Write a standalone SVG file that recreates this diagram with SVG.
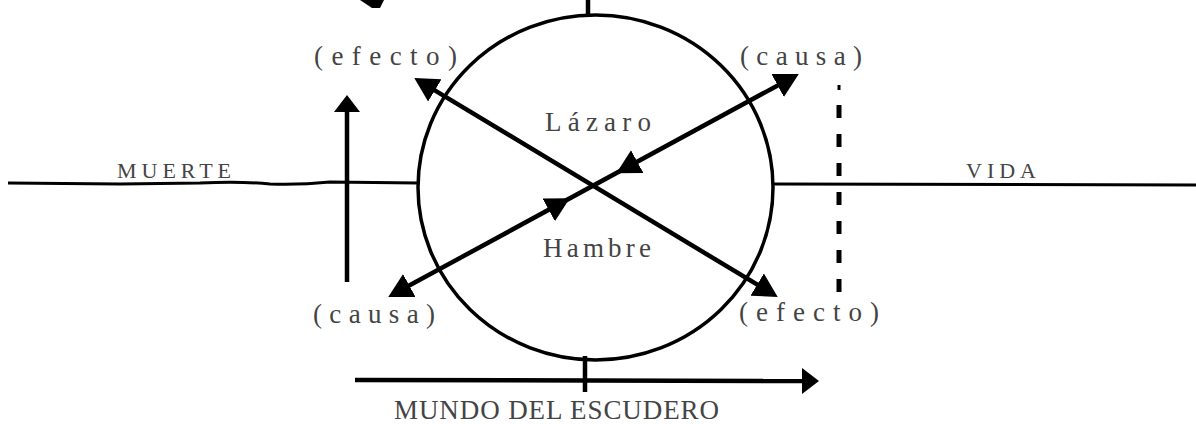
<svg xmlns="http://www.w3.org/2000/svg" width="1196" height="424" viewBox="0 0 1196 424">
<defs>
<style>
.ln{stroke:#000;fill:none;stroke-width:4.5;stroke-linecap:butt}
.thin{stroke:#000;fill:none;stroke-width:3}
.t{font-family:"Liberation Serif","DejaVu Serif",serif;fill:#444;font-size:27px}
.cap{font-size:22px}
.big{font-size:27px}
.mk{stroke:none;fill:none}
</style>
<marker id="ah" markerUnits="userSpaceOnUse" markerWidth="28" markerHeight="28" refX="18" refY="13" orient="auto-start-reverse" viewBox="0 0 28 28"><path d="M0,0 L24,13 L0,26 Z" fill="#000"/></marker>
<marker id="ah2" markerUnits="userSpaceOnUse" markerWidth="20" markerHeight="28" refX="12" refY="13" orient="auto-start-reverse" viewBox="0 0 20 28"><path d="M0,0 L17,13 L0,26 Z" fill="#000"/></marker>
</defs>
<rect width="1196" height="424" fill="#fff"/>

<g id="connectors">
  <path class="thin" d="M8,183 L120,184 L200,183 Q240,181 270,184 Q300,185 330,182 L418,183"/>
  <path class="thin" d="M773,184 L1196,185"/>
  <path class="ln" d="M588,0 L588,16"/>
  <polygon points="360,0 384,0 380,8 372,8" fill="#000"/>
  <path class="ln" d="M347,282 L347,100" marker-end="url(#ah2)"/>
  <path class="ln" d="M419.4,81.1 L772.6,293.9" marker-start="url(#ah)" marker-end="url(#ah)"/>
  <path class="ln" d="M393.5,294.1 L793.5,76.9" marker-start="url(#ah)" marker-end="url(#ah)"/>
  <path class="mk" d="M555.7,206 L564.5,201.2" marker-end="url(#ah)"/>
  <path class="mk" d="M630.3,165.5 L621.5,170.3" marker-end="url(#ah)"/>
  <path class="ln" d="M355,380 L814,381" marker-end="url(#ah2)"/>
  <path class="ln" d="M585,356 L585,392"/>
  <path d="M839,105 L839,293" stroke="#000" stroke-width="5" stroke-dasharray="13 16" fill="none"/>
  <rect x="837.5" y="85" width="3" height="5" fill="#000"/>
</g>

<g id="circulo">
  <ellipse cx="595.5" cy="187.5" rx="177.5" ry="172.5" fill="none" stroke="#000" stroke-width="3.5"/>
</g>
<g id="lazaro"><text class="t" x="545" y="131" textLength="106" lengthAdjust="spacing">Lázaro</text></g>
<g id="hambre"><text class="t" x="543" y="257" textLength="108" lengthAdjust="spacing">Hambre</text></g>
<g id="efecto-sup"><text class="t" x="314" y="65" textLength="143" lengthAdjust="spacing">(efecto)</text></g>
<g id="causa-sup"><text class="t" x="740" y="65" textLength="122" lengthAdjust="spacing">(causa)</text></g>
<g id="causa-inf"><text class="t" x="313" y="323" textLength="122" lengthAdjust="spacing">(causa)</text></g>
<g id="efecto-inf"><text class="t" x="739" y="321" textLength="140" lengthAdjust="spacing">(efecto)</text></g>
<g id="muerte"><text class="t cap" x="117" y="178" textLength="114" lengthAdjust="spacing">MUERTE</text></g>
<g id="vida"><text class="t cap" x="966" y="178" textLength="70" lengthAdjust="spacing">VIDA</text></g>
<g id="mundo"><text class="t big" x="394" y="419" textLength="325" lengthAdjust="spacing">MUNDO DEL ESCUDERO</text></g>
</svg>
